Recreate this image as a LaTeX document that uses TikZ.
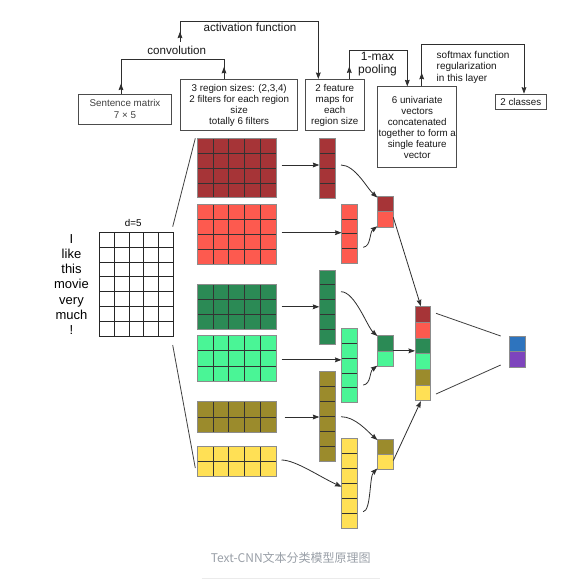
\documentclass[tikz,border=0pt]{standalone}
\usepackage{fontspec}
\setmainfont{Liberation Sans}
\newfontfamily\cjk{Noto Sans CJK SC}
\usetikzlibrary{calc,arrows.meta}
\definecolor{dred}{HTML}{A63437}
\definecolor{lred}{HTML}{FD5A4F}
\definecolor{dgreen}{HTML}{2B8A55}
\definecolor{lgreen}{HTML}{4AF596}
\definecolor{olive}{HTML}{9B8B2C}
\definecolor{yell}{HTML}{FFE055}
\definecolor{oblue}{HTML}{2E74BE}
\definecolor{opurple}{HTML}{7E44BD}
\definecolor{capgray}{HTML}{9AA0A8}
\def\inncol{black!80}
\def\outcol{black!45}
\newcommand\cellblock[8]{%
  \node[blk, fill=#8, minimum width={(#4)*(#6)*1pt}, minimum height={(#5)*(#7)*1pt}] (#1) at (#2,#3) {};
  \pgfmathtruncatemacro\ncb{#4-1}\pgfmathtruncatemacro\nrb{#5-1}%
  \ifnum\ncb>0 \foreach \i in {1,...,\ncb} {\draw[draw=\inncol, line width=0.7pt] ($(#1.north west)+(\i*#6,0)$) -- ($(#1.south west)+(\i*#6,0)$);}\fi
  \ifnum\nrb>0 \foreach \j in {1,...,\nrb} {\draw[draw=\inncol, line width=0.7pt] ($(#1.north west)+(0,\j*#7)$) -- ($(#1.north east)+(0,\j*#7)$);}\fi
  \draw[draw=\outcol, line width=0.6pt] (#1.north west) rectangle (#1.south east);
}
\begin{document}
\begin{tikzpicture}[x=1pt,y=-1pt,
  blk/.style={rectangle, draw=none, inner sep=0pt, outer sep=0pt, anchor=north west},
  conn/.style={draw=black!82, line width=0.8pt},
  tip/.style={-{Stealth[length=6.5pt,width=4.8pt,inset=0.8pt]}},
  box/.style={draw=black!70, line width=0.7pt, inner sep=0pt, align=center, font=\fontsize{9.8}{11}\selectfont, text=black!90},
  lab/.style={font=\fontsize{11.6}{13}\selectfont, text=black!90, inner sep=0pt}]
\fill[white] (0,0) rectangle (577,580);
\useasboundingbox (0,0) rectangle (577,580);

% top boxes
\node[box, text=black!75, minimum width=93.4pt, minimum height=30pt] (B1) at (125,109) {Sentence matrix\\[1.5pt]7 × 5};
\node[box, minimum width=117pt, minimum height=51.4pt] (B2) at (239.2,105) {3 region sizes: (2,3,4)\\2 filters for each region\\size\\totally 6 filters};
\node[box, minimum width=59.3pt, minimum height=51.4pt] (B3) at (334.7,105) {2 feature\\maps for\\each\\region size};
\node[box, minimum width=79pt, minimum height=80.6pt] (B4) at (417.2,127) {6 univariate\\vectors\\concatenated\\together to form a\\single feature\\vector};
\node[box, minimum width=51.7pt, minimum height=15pt] (B5) at (520.8,101.5) {2 classes};

% labels
\node[lab] (Lconv) at (176.7,50.5) {convolution};
\node[lab] (Lact) at (250,27.8) {activation function};
\node[lab, align=center, font=\fontsize{12}{13.5}\selectfont] (Lpool) at (377.5,64) {1-max\\pooling};
\node[lab, anchor=west, align=left, font=\fontsize{10}{11.3}\selectfont] (Lsoft) at (436.5,67.2) {softmax function\\regularization\\in this layer};

% top connectors
\coordinate (cvL) at (121,59.3); \coordinate (cvR) at (224,59.3);
\draw[conn] (B1.north -| cvL) -- (cvL) -- (cvR) -- (B2.north -| cvR);
\draw[conn,tip] (B1.north -| cvL) -- ++(0,-10);
\draw[conn,tip] (B2.north -| cvR) -- ++(0,-12);
\coordinate (acS) at (180,41.7); \coordinate (acL) at (180,21.7); \coordinate (acR) at (318.3,21.7);
\draw[conn,tip] (acS) -- (acL) -- (acR) -- (B3.north -| acR);
\draw[conn,tip] (acS) -- ++(0,-10);
\coordinate (plL) at (349.3,50.7); \coordinate (plR) at (407.3,50.7);
\draw[conn,tip] (B3.north -| plL) -- (plL) -- (plR) -- (B4.north -| plR);
\draw[conn,tip] (B3.north -| plL) -- ++(0,-12.5);
\coordinate (smL) at (421.7,44); \coordinate (smR) at (524,44);
\draw[conn,tip] (B4.north -| smL) -- (smL) -- (smR) -- (B5.north -| smR);
\draw[conn,tip] (B4.north -| smL) -- ++(0,-13.5);

% sentence
\node[align=center, font=\fontsize{13}{15.3}\selectfont, inner sep=0pt] (W) at (71.5,284.5) {I\\like\\this\\movie\\very\\much\\!};
\node[font=\fontsize{9.8}{11}\selectfont, inner sep=0pt] (D) at (133.3,222.7) {d=5};
\def\inncol{black!85}\def\outcol{black!85}
\cellblock{S}{99.3}{232.3}{5}{7}{14.8}{14.82}{white}
\def\inncol{black!80}\def\outcol{black!45}

% filters
\cellblock{F1}{197.3}{138.3}{5}{4}{15.74}{14.85}{dred}
\cellblock{F2}{197.3}{204}{5}{4}{15.74}{15}{lred}
\cellblock{F3}{197.3}{284.3}{5}{3}{15.74}{15}{dgreen}
\cellblock{F4}{197.3}{335.7}{5}{3}{15.74}{15.1}{lgreen}
\cellblock{F5}{197.3}{401.7}{5}{2}{15.74}{15.3}{olive}
\cellblock{F6}{197.3}{446}{5}{2}{15.74}{15}{yell}

\draw[conn, draw=black!75] ($(S.north east)+(-0.6,-5.6)$) -- ($(F1.north west)+(-2,0)$);
\draw[conn, draw=black!75] ($(S.south east)+(-0.6,9)$) -- ($(F6.south west)+(-2,-8)$);

% feature maps
\cellblock{M1}{319.3}{138}{1}{4}{15.7}{15}{dred}
\cellblock{M2}{341.5}{204}{1}{4}{15.7}{14.85}{lred}
\cellblock{M3}{319.3}{270}{1}{5}{15.7}{14.8}{dgreen}
\cellblock{M4}{341.5}{328.3}{1}{5}{15.7}{14.85}{lgreen}
\cellblock{M5}{319.3}{371}{1}{6}{15.7}{15}{olive}
\cellblock{M6}{341.5}{438.3}{1}{6}{15.7}{15}{yell}

% pooled pairs
\cellblock{P1a}{377.3}{196}{1}{1}{15.5}{15.65}{dred}
\cellblock{P1b}{377.3}{211.65}{1}{1}{15.5}{15.65}{lred}
\cellblock{P2a}{377.3}{335}{1}{1}{15.5}{15.85}{dgreen}
\cellblock{P2b}{377.3}{350.85}{1}{1}{15.5}{15.85}{lgreen}
\cellblock{P3a}{377.3}{439}{1}{1}{15.5}{15}{olive}
\cellblock{P3b}{377.3}{454}{1}{1}{15.5}{15}{yell}

% concatenated
\cellblock{C1}{415}{306.7}{1}{1}{15.7}{15.67}{dred}
\cellblock{C2}{415}{322.37}{1}{1}{15.7}{15.67}{lred}
\cellblock{C3}{415}{338.04}{1}{1}{15.7}{15.67}{dgreen}
\cellblock{C4}{415}{353.71}{1}{1}{15.7}{15.67}{lgreen}
\cellblock{C5}{415}{369.38}{1}{1}{15.7}{15.67}{olive}
\cellblock{C6}{415}{385.05}{1}{1}{15.7}{15.67}{yell}

% output
\cellblock{O1}{509.3}{336}{1}{1}{15.7}{15.65}{oblue}
\cellblock{O2}{509.3}{351.65}{1}{1}{15.7}{15.65}{opurple}

% filter -> map
\draw[conn,tip] ($(F1.east)+(5.5,-3)$) -- ($(F1.east -| M1.west)+(0,-3)$);
\draw[conn,tip] ($(F2.east)+(5.5,-1.3)$) -- ($(F2.east -| M2.west)+(0,-1.3)$);
\draw[conn,tip] ($(F3.east)+(5.5,0)$) -- (F3.east -| M3.west);
\draw[conn,tip] ($(F4.east)+(5.5,1.5)$) -- ($(F4.east -| M4.west)+(0,1.5)$);
\draw[conn,tip] ($(F5.east)+(8.5,0)$) -- (F5.east -| M5.west);
\draw[conn,tip] ($(F6.east)+(5.5,-1)$) .. controls +(14,0) and +(-22,-10) .. ($(M6.west)+(0,3.4)$);

% map -> pair
\draw[conn,tip] ($(M1.east)+(6,-3)$) .. controls +(14,0) and +(-10,-9) .. ($(P1a.north west)+(0,1.5)$);
\draw[conn,tip] ($(M2.east)+(6,13.6)$) .. controls +(8,-1) and +(-8,6) .. ($(P1b.south west)+(0,-1)$);
\draw[conn,tip] ($(M3.east)+(6,-15.3)$) .. controls +(14,0) and +(-10,-9) .. ($(P2a.north west)+(0,1)$);
\draw[conn,tip] ($(M4.east)+(6,19.6)$) .. controls +(8,-1) and +(-8,6) .. ($(P2b.south west)+(0,-1)$);
\draw[conn,tip] ($(M5.east)+(6,0.7)$) .. controls +(14,0) and +(-10,-9) .. ($(P3a.north west)+(0,1)$);
\draw[conn,tip] ($(M6.east)+(6,28.4)$) .. controls +(8,-1) and +(-8,8) .. ($(P3b.south west)+(0,-0.5)$);

% pair -> concat
\draw[conn,tip] ($(P1b.north east)+(0.5,5.7)$) -- ($(C1.north)+(-2,-0.5)$);
\draw[conn,tip] (P2a.south east) -- (P2a.south east -| C1.west);
\draw[conn,tip] ($(P3b.east)+(0.5,-1)$) -- ($(C6.south)+(-2,0.5)$);

% concat -> output
\draw[conn, draw=black!75] ($(C1.north east)+(5.3,6.6)$) -- ($(O1.north west)+(-8.6,0)$);
\draw[conn, draw=black!75] ($(C6.south east)+(5.3,-6.7)$) -- ($(O2.south west)+(-8.6,-2.3)$);

% caption
\node[font=\cjk\fontsize{12}{14}\selectfont, text=capgray, inner sep=0pt] (cap) at (290.8,558.3) {Text-CNN文本分类模型原理图};
\coordinate (ulL) at (201.7,578.3); \coordinate (ulR) at (380,578.3);
\draw[draw=black!8, line width=1.5pt] (ulL) -- (ulR);
\end{tikzpicture}
\end{document}
